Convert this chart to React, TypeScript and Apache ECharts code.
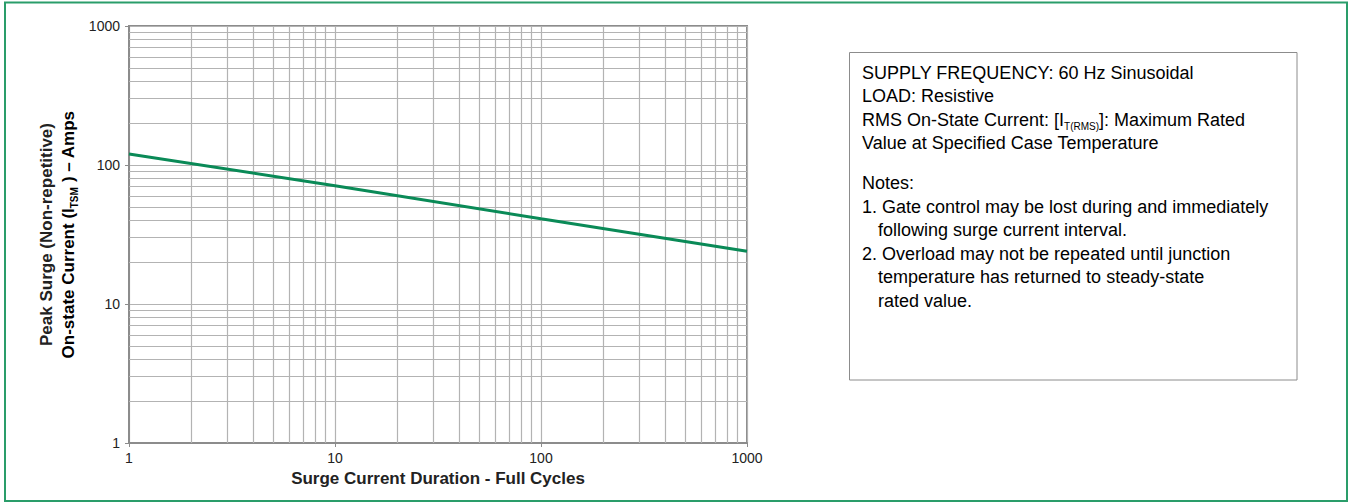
import { useEffect, useRef } from "react";
import * as echarts from "echarts";

// Surge current duration (full cycles) vs. peak non-repetitive surge current (A)
const durationCycles = [1, 10, 100, 1000];
const peakSurgeAmps = [120, 71, 41, 24];

// Logarithmic minor grid values per decade
const xMinorGrid = [2, 3, 4, 5, 6, 7, 8, 9, 20, 30, 40, 50, 60, 70, 80, 90, 200, 300, 400, 500, 600, 700, 800, 900];
const yMinorGrid = [2, 3, 4, 5, 6, 7, 8, 9, 20, 30, 40, 50, 60, 70, 80, 90, 200, 300, 400, 500, 600, 700, 800, 900];

const xAxisTitle = "Surge Current Duration - Full Cycles";
const yAxisTitleLine1 = "Peak Surge (Non-repetitive)";
const yAxisTitleLine2 = "{b|On-state Current (I}{s|TSM}{b| ) – Amps}";

// Conditions / notes panel: [text, indent]
const noteLines: [string, boolean][] = [
  ["{t|SUPPLY FREQUENCY: 60 Hz Sinusoidal}", false],
  ["{t|LOAD: Resistive}", false],
  ["{t|RMS On-State Current: [I}{s|T(RMS)}{t|]: Maximum Rated}", false],
  ["{t|Value at Specified Case Temperature}", false],
  ["{t|Notes:}", false],
  ["{t|1. Gate control may be lost during and immediately}", false],
  ["{t|following surge current interval.}", true],
  ["{t|2. Overload may not be repeated until junction}", false],
  ["{t|temperature has returned to steady-state}", true],
  ["{t|rated value.}", true],
];
const noteLineY = [72.5, 96, 119.5, 143, 183, 206.5, 230, 253.5, 277, 300.5];

const FONT = '"Liberation Sans", Arial, Helvetica, sans-serif';

export default function App() {
  const ref = useRef<HTMLDivElement>(null);

  useEffect(() => {
    if (!ref.current) return;
    const chart = echarts.init(ref.current, undefined, { renderer: "svg" });

    const gridColor = "#b3b3b3";
    const axisColor = "#8c8c8c";
    const textColor = "#222";

    const noteRich = {
      t: { fontSize: 18, fontFamily: FONT, color: textColor, lineHeight: 24, verticalAlign: "middle" },
      s: { fontSize: 10, fontFamily: FONT, color: textColor, lineHeight: 10, verticalAlign: "bottom" },
    };

    const graphics: any[] = [
      {
        type: "rect",
        shape: { x: 5, y: 2.5, width: 1342, height: 498.5 },
        style: { fill: "none", stroke: "#2a9d6a", lineWidth: 2 },
        silent: true,
      },
      {
        type: "rect",
        shape: { x: 849.5, y: 52.5, width: 447.5, height: 327.5 },
        style: { fill: "#fff", stroke: axisColor, lineWidth: 1 },
        silent: true,
      },
      {
        type: "text",
        x: 46,
        y: 234.5,
        rotation: Math.PI / 2,
        style: {
          text: yAxisTitleLine1,
          font: `bold 17px ${FONT}`,
          fill: textColor,
          align: "center",
          verticalAlign: "middle",
        },
        silent: true,
      },
      {
        type: "text",
        x: 68,
        y: 234.5,
        rotation: Math.PI / 2,
        style: {
          text: yAxisTitleLine2,
          align: "center",
          verticalAlign: "middle",
          rich: {
            b: { fontSize: 17, fontWeight: "bold", fontFamily: FONT, color: textColor, lineHeight: 22, verticalAlign: "middle" },
            s: { fontSize: 10, fontWeight: "bold", fontFamily: FONT, color: textColor, lineHeight: 10, verticalAlign: "bottom" },
          },
        },
        silent: true,
      },
    ];

    noteLines.forEach(([txt, indent], i) => {
      graphics.push({
        type: "text",
        x: indent ? 878 : 862,
        y: noteLineY[i],
        style: {
          text: txt,
          align: "left",
          verticalAlign: "middle",
          rich: noteRich,
        },
        silent: true,
      });
    });

    const plainNumber = (v: number) => String(Math.round(v));

    chart.setOption({
      animation: false,
      backgroundColor: "#fff",
      grid: {
        left: 129,
        top: 26,
        right: 601,
        bottom: 59,
        show: true,
        borderColor: axisColor,
        borderWidth: 2,
        backgroundColor: "transparent",
        outerBoundsMode: "none",
      },
      xAxis: {
        type: "log",
        logBase: 10,
        min: 1,
        max: 1000,
        name: xAxisTitle,
        nameLocation: "middle",
        nameGap: 22,
        nameTextStyle: { fontSize: 17, fontWeight: "bold", fontFamily: FONT, color: textColor },
        axisLine: { show: true, lineStyle: { color: axisColor, width: 2 } },
        axisTick: { show: true, inside: false, length: 4, lineStyle: { color: axisColor, width: 1 } },
        axisLabel: { fontSize: 14, fontFamily: FONT, color: textColor, margin: 8, formatter: plainNumber },
        splitLine: { show: true, lineStyle: { color: gridColor, width: 1.2 } },
        minorTick: { show: false },
        minorSplitLine: { show: false },
      },
      yAxis: {
        type: "log",
        logBase: 10,
        min: 1,
        max: 1000,
        axisLine: { show: true, lineStyle: { color: axisColor, width: 2 } },
        axisTick: { show: true, inside: false, length: 4, lineStyle: { color: axisColor, width: 1 } },
        axisLabel: { fontSize: 14, fontFamily: FONT, color: textColor, margin: 9, formatter: plainNumber },
        splitLine: { show: true, lineStyle: { color: gridColor, width: 1.2 } },
        minorTick: { show: false },
        minorSplitLine: { show: false },
      },
      graphic: graphics,
      series: [
        {
          name: "grid-minor",
          type: "line",
          data: durationCycles.map((x, i) => [x, peakSurgeAmps[i]]),
          symbol: "none",
          lineStyle: { opacity: 0 },
          silent: true,
          z: 1,
          markLine: {
            silent: true,
            symbol: ["none", "none"],
            label: { show: false },
            lineStyle: { color: gridColor, width: 1.2, type: "solid" },
            emphasis: { disabled: true },
            data: [
              ...xMinorGrid.map((v) => ({ xAxis: v })),
              ...yMinorGrid.map((v) => ({ yAxis: v })),
            ],
          },
        },
        {
          name: "Peak Surge Current",
          type: "line",
          data: durationCycles.map((x, i) => [x, peakSurgeAmps[i]]),
          symbol: "none",
          lineStyle: { color: "#0a8a57", width: 3 },
          z: 5,
        },
      ],
    });

    return () => chart.dispose();
  }, []);

  return (
    <div
      ref={ref}
      style={{ position: "absolute", left: 0, top: 0, width: 1348, height: 502, background: "#fff" }}
    />
  );
}
